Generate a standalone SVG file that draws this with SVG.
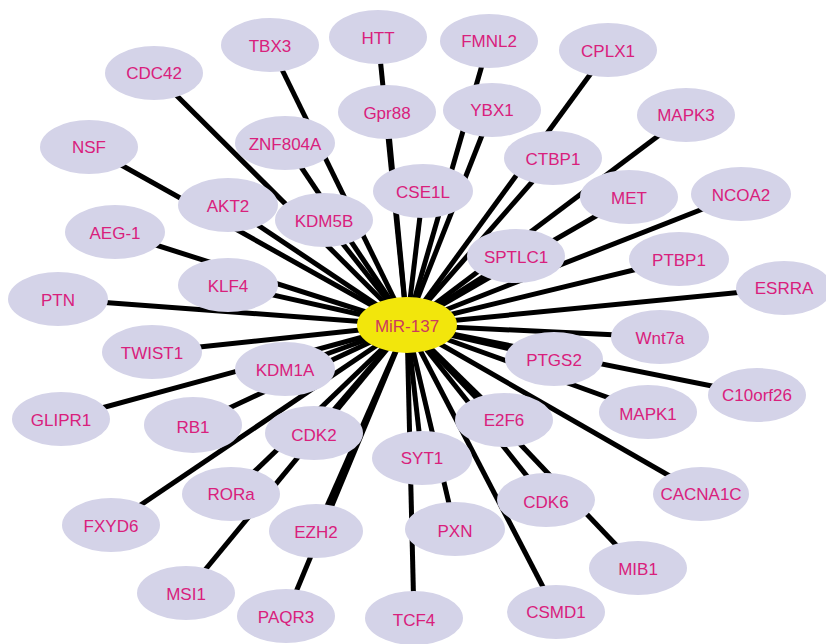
<svg xmlns="http://www.w3.org/2000/svg" width="826" height="644" viewBox="0 0 826 644">
<style>
.n ellipse{fill:#d4d3e8;}
.n text{font-family:"Liberation Sans",Arial,sans-serif;font-size:17px;fill:#d9207c;text-anchor:middle;dominant-baseline:central;}
#c ellipse{fill:#f2e60c;}
#c text{fill:#cc3a5e;}
#edges line{stroke:#000;stroke-width:5;}
</style>
<rect width="826" height="644" fill="#fff"/>
<g id="edges">
<line x1="407" y1="325" x2="270" y2="45"/>
<line x1="407" y1="325" x2="378" y2="37"/>
<line x1="407" y1="325" x2="489" y2="41"/>
<line x1="407" y1="325" x2="608" y2="50"/>
<line x1="407" y1="325" x2="154" y2="73"/>
<line x1="407" y1="325" x2="387" y2="112"/>
<line x1="407" y1="325" x2="492" y2="110"/>
<line x1="407" y1="325" x2="686" y2="115"/>
<line x1="407" y1="325" x2="89" y2="147"/>
<line x1="407" y1="325" x2="285" y2="143"/>
<line x1="407" y1="325" x2="553" y2="158"/>
<line x1="407" y1="325" x2="423" y2="191"/>
<line x1="407" y1="325" x2="629" y2="197"/>
<line x1="407" y1="325" x2="741" y2="194"/>
<line x1="407" y1="325" x2="228" y2="205"/>
<line x1="407" y1="325" x2="324" y2="220"/>
<line x1="407" y1="325" x2="115" y2="232"/>
<line x1="407" y1="325" x2="516" y2="256"/>
<line x1="407" y1="325" x2="679" y2="259"/>
<line x1="407" y1="325" x2="228" y2="285"/>
<line x1="407" y1="325" x2="58" y2="299"/>
<line x1="407" y1="325" x2="784" y2="288"/>
<line x1="407" y1="325" x2="152" y2="352"/>
<line x1="407" y1="325" x2="660" y2="337"/>
<line x1="407" y1="325" x2="285" y2="369"/>
<line x1="407" y1="325" x2="554" y2="359"/>
<line x1="407" y1="325" x2="757" y2="395"/>
<line x1="407" y1="325" x2="61" y2="419"/>
<line x1="407" y1="325" x2="193" y2="425"/>
<line x1="407" y1="325" x2="314" y2="433"/>
<line x1="407" y1="325" x2="648" y2="412"/>
<line x1="407" y1="325" x2="504" y2="420"/>
<line x1="407" y1="325" x2="422" y2="458"/>
<line x1="407" y1="325" x2="231" y2="494"/>
<line x1="407" y1="325" x2="701" y2="494"/>
<line x1="407" y1="325" x2="546" y2="500"/>
<line x1="407" y1="325" x2="111" y2="525"/>
<line x1="407" y1="325" x2="316" y2="531"/>
<line x1="407" y1="325" x2="455" y2="529"/>
<line x1="407" y1="325" x2="638" y2="568"/>
<line x1="407" y1="325" x2="186" y2="593"/>
<line x1="407" y1="325" x2="286" y2="616"/>
<line x1="407" y1="325" x2="414" y2="618"/>
<line x1="407" y1="325" x2="556" y2="612"/>
</g>
<g id="n-TBX3" class="n"><ellipse cx="270" cy="45" rx="49" ry="27"/><text x="270" y="46">TBX3</text></g>
<g id="n-HTT" class="n"><ellipse cx="378" cy="37" rx="49" ry="27"/><text x="378" y="38">HTT</text></g>
<g id="n-FMNL2" class="n"><ellipse cx="489" cy="41" rx="49" ry="27"/><text x="489" y="41">FMNL2</text></g>
<g id="n-CPLX1" class="n"><ellipse cx="608" cy="50" rx="49" ry="27"/><text x="608" y="51">CPLX1</text></g>
<g id="n-CDC42" class="n"><ellipse cx="154" cy="73" rx="49" ry="27"/><text x="154" y="73">CDC42</text></g>
<g id="n-Gpr88" class="n"><ellipse cx="387" cy="112" rx="49" ry="27"/><text x="387" y="113">Gpr88</text></g>
<g id="n-YBX1" class="n"><ellipse cx="492" cy="110" rx="49" ry="27"/><text x="492" y="110">YBX1</text></g>
<g id="n-MAPK3" class="n"><ellipse cx="686" cy="115" rx="49" ry="27"/><text x="686" y="115">MAPK3</text></g>
<g id="n-NSF" class="n"><ellipse cx="89" cy="147" rx="49" ry="27"/><text x="89" y="147">NSF</text></g>
<g id="n-ZNF804A" class="n"><ellipse cx="285" cy="143" rx="50" ry="27"/><text x="285" y="144">ZNF804A</text></g>
<g id="n-CTBP1" class="n"><ellipse cx="553" cy="158" rx="49" ry="27"/><text x="553" y="159">CTBP1</text></g>
<g id="n-CSE1L" class="n"><ellipse cx="423" cy="191" rx="50" ry="27"/><text x="423" y="192">CSE1L</text></g>
<g id="n-MET" class="n"><ellipse cx="629" cy="197" rx="49" ry="27"/><text x="629" y="198">MET</text></g>
<g id="n-NCOA2" class="n"><ellipse cx="741" cy="194" rx="50" ry="27"/><text x="741" y="195">NCOA2</text></g>
<g id="n-AKT2" class="n"><ellipse cx="228" cy="205" rx="50" ry="27"/><text x="228" y="206">AKT2</text></g>
<g id="n-KDM5B" class="n"><ellipse cx="324" cy="220" rx="49" ry="27"/><text x="324" y="221">KDM5B</text></g>
<g id="n-AEG-1" class="n"><ellipse cx="115" cy="232" rx="50" ry="27"/><text x="115" y="233">AEG-1</text></g>
<g id="n-SPTLC1" class="n"><ellipse cx="516" cy="256" rx="49" ry="27"/><text x="516" y="257">SPTLC1</text></g>
<g id="n-PTBP1" class="n"><ellipse cx="679" cy="259" rx="50" ry="27"/><text x="679" y="260">PTBP1</text></g>
<g id="n-KLF4" class="n"><ellipse cx="228" cy="285" rx="50" ry="27"/><text x="228" y="286">KLF4</text></g>
<g id="n-PTN" class="n"><ellipse cx="58" cy="299" rx="50" ry="27"/><text x="58" y="300">PTN</text></g>
<g id="n-ESRRA" class="n"><ellipse cx="784" cy="288" rx="48" ry="27"/><text x="784" y="288">ESRRA</text></g>
<g id="n-TWIST1" class="n"><ellipse cx="152" cy="352" rx="50" ry="27"/><text x="152" y="353">TWIST1</text></g>
<g id="n-Wnt7a" class="n"><ellipse cx="660" cy="337" rx="49" ry="27"/><text x="660" y="338">Wnt7a</text></g>
<g id="n-KDM1A" class="n"><ellipse cx="285" cy="369" rx="50" ry="27"/><text x="285" y="370">KDM1A</text></g>
<g id="n-PTGS2" class="n"><ellipse cx="554" cy="359" rx="49" ry="27"/><text x="554" y="360">PTGS2</text></g>
<g id="n-C10orf26" class="n"><ellipse cx="757" cy="395" rx="49" ry="27"/><text x="757" y="395">C10orf26</text></g>
<g id="n-GLIPR1" class="n"><ellipse cx="61" cy="419" rx="49" ry="27"/><text x="61" y="420">GLIPR1</text></g>
<g id="n-RB1" class="n"><ellipse cx="193" cy="425" rx="49" ry="28"/><text x="193" y="427">RB1</text></g>
<g id="n-CDK2" class="n"><ellipse cx="314" cy="433" rx="49" ry="27"/><text x="314" y="435">CDK2</text></g>
<g id="n-MAPK1" class="n"><ellipse cx="648" cy="412" rx="49" ry="27"/><text x="648" y="414">MAPK1</text></g>
<g id="n-E2F6" class="n"><ellipse cx="504" cy="420" rx="49" ry="27"/><text x="504" y="420">E2F6</text></g>
<g id="n-SYT1" class="n"><ellipse cx="422" cy="458" rx="50" ry="27"/><text x="422" y="458">SYT1</text></g>
<g id="n-RORa" class="n"><ellipse cx="231" cy="494" rx="49" ry="27"/><text x="231" y="494">RORa</text></g>
<g id="n-CACNA1C" class="n"><ellipse cx="701" cy="494" rx="48" ry="27"/><text x="701" y="494">CACNA1C</text></g>
<g id="n-CDK6" class="n"><ellipse cx="546" cy="500" rx="49" ry="27"/><text x="546" y="502">CDK6</text></g>
<g id="n-FXYD6" class="n"><ellipse cx="111" cy="525" rx="49" ry="27"/><text x="111" y="526">FXYD6</text></g>
<g id="n-EZH2" class="n"><ellipse cx="316" cy="531" rx="47" ry="27"/><text x="316" y="532">EZH2</text></g>
<g id="n-PXN" class="n"><ellipse cx="455" cy="529" rx="50" ry="27"/><text x="455" y="531">PXN</text></g>
<g id="n-MIB1" class="n"><ellipse cx="638" cy="568" rx="49" ry="27"/><text x="638" y="569">MIB1</text></g>
<g id="n-MSI1" class="n"><ellipse cx="186" cy="593" rx="49" ry="27"/><text x="186" y="594">MSI1</text></g>
<g id="n-PAQR3" class="n"><ellipse cx="286" cy="616" rx="49" ry="27"/><text x="286" y="617">PAQR3</text></g>
<g id="n-TCF4" class="n"><ellipse cx="414" cy="618" rx="49" ry="27"/><text x="414" y="620">TCF4</text></g>
<g id="n-CSMD1" class="n"><ellipse cx="556" cy="612" rx="49" ry="27"/><text x="556" y="612">CSMD1</text></g>
<g id="c" class="n"><ellipse cx="407" cy="325" rx="50" ry="28"/><text x="407" y="326">MiR-137</text></g>
</svg>
